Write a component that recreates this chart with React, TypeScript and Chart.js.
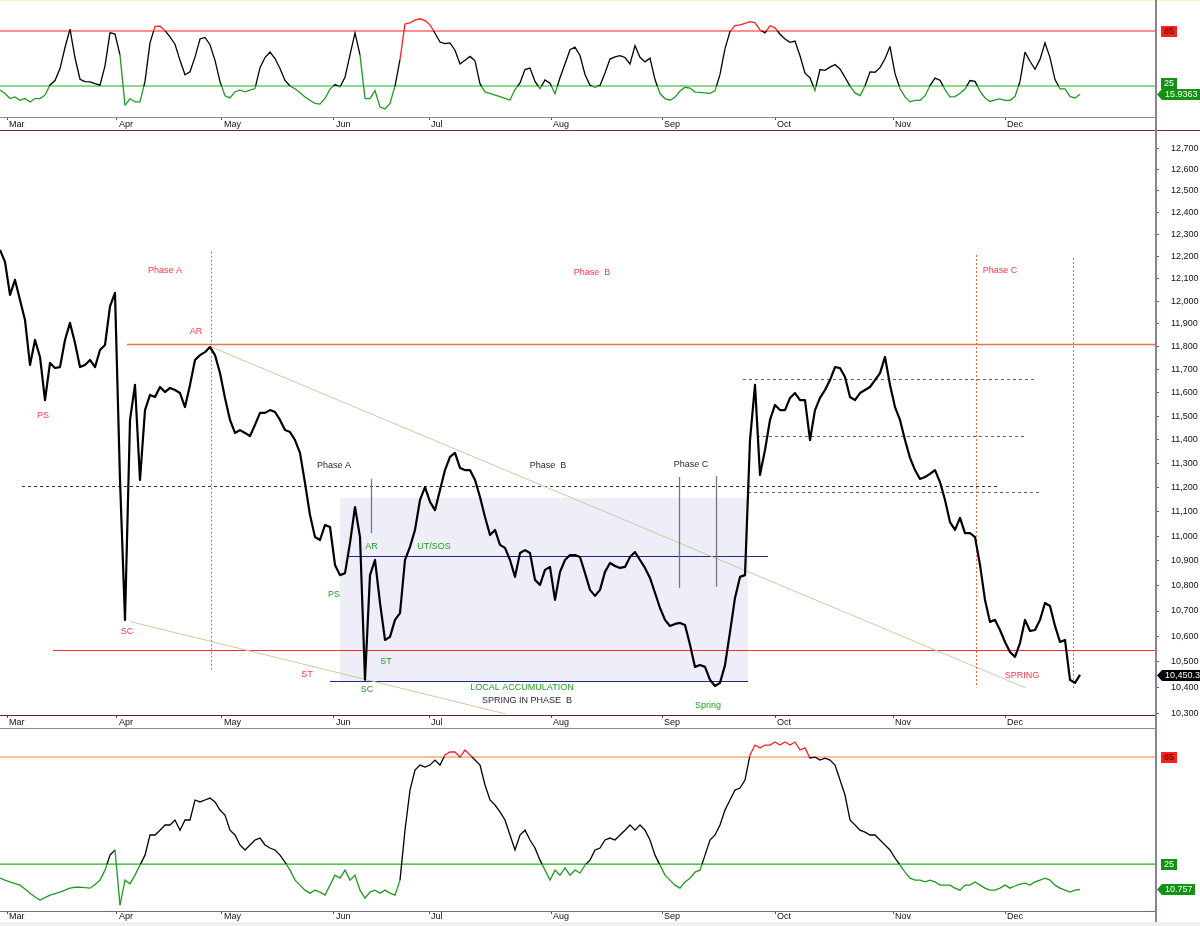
import React, { useEffect, useRef } from 'react';
import { Chart, registerables } from 'chart.js';

Chart.register(...registerables);

const FONT = '"Liberation Sans", Arial, Helvetica, sans-serif';
const X_MAX = 231;
const AXIS_W = 45;

const months = ['Mar', 'Apr', 'May', 'Jun', 'Jul', 'Aug', 'Sep', 'Oct', 'Nov', 'Dec'];
const monthPositions = [1.4, 23.4, 44.4, 66.8, 85.8, 110.2, 132.4, 155, 178.6, 201];

const priceTicks = [12700, 12600, 12500, 12400, 12300, 12200, 12100, 12000, 11900, 11800, 11700, 11600, 11500, 11400, 11300, 11200, 11100, 11000, 10900, 10800, 10700, 10600, 10500, 10400, 10300];

const closePrices = [
  12230, 12176, 12028, 12095, 12005, 11917, 11720, 11829, 11755, 11569,
  11729, 11707, 11711, 11829, 11904, 11816, 11711, 11720, 11742, 11711,
  11785, 11807, 11977, 12037, 11232, 10665, 11484, 11634, 11232, 11526,
  11591, 11582, 11625, 11603, 11621, 11612, 11599, 11539, 11634, 11742,
  11763, 11776, 11798, 11763, 11685, 11578, 11484, 11429, 11441, 11429,
  11416, 11463, 11514, 11514, 11526, 11518, 11484, 11441, 11433, 11399,
  11345, 11219, 11087, 10997, 10985, 11046, 11038, 10884, 10843, 10851,
  10973, 11120, 10997, 10431, 10843, 10904, 10732, 10586, 10598, 10665,
  10692, 10904, 10957, 11026, 11149, 11202, 11141, 11107, 11190, 11273,
  11328, 11345, 11282, 11273, 11273, 11232, 11161, 11079, 11005, 11026,
  10965, 10953, 10904, 10836, 10932, 10944, 10932, 10824, 10804, 10864,
  10876, 10744, 10856, 10904, 10924, 10924, 10916, 10851, 10784, 10760,
  10784, 10856, 10892, 10880, 10872, 10876, 10916, 10936, 10904, 10872,
  10832, 10772, 10712, 10665, 10641, 10649, 10653, 10645, 10567, 10481,
  10488, 10481, 10431, 10407, 10419, 10488, 10617, 10752, 10836, 10843,
  11399, 11634, 11253, 11357, 11484, 11548, 11526, 11526, 11578, 11599,
  11569, 11569, 11399, 11526, 11578, 11612, 11655, 11711, 11707, 11668,
  11582, 11569, 11599, 11612, 11625, 11655, 11685, 11755, 11634, 11539,
  11484, 11399, 11324, 11273, 11236, 11244, 11257, 11273, 11223, 11149,
  11058, 11026, 11075, 11013, 11013, 10997, 10884, 10744, 10657, 10665,
  10625, 10578, 10539, 10520, 10574, 10665, 10621, 10625, 10665, 10732,
  10720, 10641, 10578, 10586, 10431, 10419, 10450.3,
];

const fastOscillator = [
  20.6, 16.9, 11.3, 13.1, 9.4, 11.3, 7.6, 11.3, 11.3, 15,
  26.1, 31, 44, 67, 87, 55.8, 32.4, 29.8, 29.5, 27.6,
  26, 47, 83.3, 81.6, 59, 3.9, 11.3, 7.6, 7.6, 30,
  72, 90, 90.2, 85.4, 78.5, 70.6, 53, 37.2, 40.5, 56.5,
  76.3, 78, 70, 53, 29.8, 14.4, 12, 18.8, 20.5, 18.7,
  20.5, 22.2, 45, 56, 62, 55, 44, 31, 25, 22,
  17.6, 13, 9.5, 6, 5.3, 11.4, 21.6, 26.5, 24, 34.5,
  59, 83, 59, 11.3, 11.3, 20, 2, 0, 6, 25,
  54, 92.8, 93.9, 96.8, 98.3, 96.4, 91.7, 82.5, 73, 71.2,
  72, 64, 49, 53, 57.3, 52.5, 27.3, 18.6, 16.9, 15,
  13.3, 11.5, 9.7, 21.2, 28.4, 42.9, 44.6, 30, 22, 31.7,
  28, 16.5, 34, 49, 64.5, 67.4, 58.3, 37.6, 25.8, 23.6,
  25.6, 39.3, 54.4, 56.8, 58.2, 56.1, 49, 69, 56.3, 51.3,
  55.3, 32, 16.8, 11.3, 9.5, 12.7, 19.5, 23.6, 22.8, 18.4,
  18.1, 17.5, 16.9, 19.7, 37.6, 65.7, 84.5, 90.9, 91.6, 93.4,
  95.1, 94.1, 86.1, 83, 90.7, 88.4, 81.5, 76.2, 72.6, 74,
  58, 39, 34, 20, 42.9, 42.1, 45.6, 48.3, 43.6, 34.5,
  24.8, 17.5, 14.5, 25, 40.4, 40, 45, 54.7, 68, 38.5,
  22, 13.1, 7.7, 9.3, 9.4, 14.2, 25.5, 33.7, 31.4, 21,
  13.2, 13.5, 17.1, 21.7, 31, 30, 19.5, 12, 8.2, 9.9,
  10.9, 9.4, 9.4, 13.5, 30, 62, 52, 43.3, 54, 72,
  56, 32, 22, 21.9, 13.6, 11.9, 15.9363,
];

const slowOscillator = [
  17.1, 16, 15, 14, 13.2, 11, 8.7, 6.5, 4.8, 6.2,
  7.6, 8.5, 9.3, 10.4, 11.5, 12, 12.1, 11.8, 11.5, 13.5,
  16, 21.6, 30, 32.9, 2, 16, 14, 18.8, 24.4, 30,
  41.3, 41.3, 44, 46.9, 46.9, 49.7, 44, 49.7, 49.7, 60.9,
  59.8, 60.9, 62, 59.8, 55.3, 52.5, 44, 41.3, 35.7, 32.9,
  35.7, 38.5, 39.6, 35.7, 34, 32.9, 30, 26.1, 21.6, 16,
  13.2, 10.4, 8.7, 10.4, 9.3, 7.6, 13.2, 18.8, 17.1, 21.6,
  16, 18.8, 10.4, 5.9, 9.3, 10.4, 8.7, 10.4, 8.7, 7.6,
  16, 44, 66.5, 77.7, 80.5, 79.4, 80.5, 83.3, 80.5, 86.1,
  87.8, 87.8, 85, 88.9, 86.1, 83.3, 80.5, 69.3, 60.9, 58.1,
  54.2, 49.7, 41.3, 32.9, 41.3, 44, 38.5, 34, 27.2, 21.6,
  16, 21.6, 18.8, 22.8, 18.8, 21.6, 20, 24.4, 27.2, 32.9,
  34, 38.5, 39.6, 38.5, 41.3, 44, 46.9, 44, 46.9, 44,
  38.5, 30, 24.4, 18.8, 16, 13.2, 11.5, 15, 17.1, 20.5,
  21.6, 30, 38.5, 41.3, 46.9, 55.3, 60.9, 66.5, 67.6, 72.1,
  86.1, 91.7, 90.1, 91.7, 91.7, 93.4, 91.7, 93.4, 91.7, 93.4,
  88.9, 90.1, 84.4, 85, 83.3, 84.4, 83.3, 80.5, 72.1, 63.7,
  49.7, 46.9, 44, 42.9, 41.3, 41.3, 38.5, 35.7, 32.9, 28.4,
  24.4, 20.5, 17.1, 16, 16, 15, 16, 15, 13.2, 13.2,
  13.2, 11.5, 10.4, 13.2, 13.2, 15, 13.2, 11.5, 10.4, 10.4,
  11.5, 13.2, 11.5, 12.7, 13.8, 14.3, 13.2, 15, 16, 17.1,
  16, 13.2, 11.5, 10.4, 9.3, 10.4, 10.757,
];

const oscillatorLevels = [85, 25];

const RED = '#ff1e1e';
const GREEN = '#1f9a1f';
const BLACK = '#000000';
const RED_TEXT = '#ff3545';
const GREEN_TEXT = '#22a022';
const DARK_TEXT = '#2a2a2a';

// Main chart annotations (x in bar index, y in price)
const zoneBox = { x0: 68, x1: 149.6, top: 11157, bottom: 10427, color: '#eeeef9' };

const horizontalLevels = [
  { price: 11812, from: 25.4, to: X_MAX, color: '#f47048', width: 1.5, dash: [] as number[] },
  { price: 10547, from: 10.6, to: X_MAX, color: '#ff2a2a', width: 1.2, dash: [] as number[] },
  { price: 11207, from: 4.4, to: 199.4, color: '#4a2c2c', width: 1, dash: [3, 3] },
  { price: 11659, from: 148.6, to: 207.4, color: '#6e5e6e', width: 1, dash: [3, 3] },
  { price: 11416, from: 151.4, to: 205.4, color: '#6e5e6e', width: 1, dash: [3, 3] },
  { price: 11182, from: 149.6, to: 208.4, color: '#6e5e6e', width: 1, dash: [3, 3] },
  { price: 10920, from: 69.4, to: 153.6, color: '#24248c', width: 1, dash: [] as number[] },
  { price: 10427, from: 66, to: 149.6, color: '#24248c', width: 1, dash: [] as number[] },
];

const segmentLines = [
  { x0: 42.2, p0: 11798, x1: 205, p1: 10400, color: '#cdc9a6', width: 1, dash: [] as number[] },
  { x0: 26, p0: 10658, x1: 101, p1: 10300, color: '#cdc9a6', width: 1, dash: [] as number[] },
  { x0: 42.3, p0: 12222, x1: 42.3, p1: 10469, color: '#f2603c', width: 1, dash: [2, 2] },
  { x0: 195.2, p0: 12207, x1: 195.2, p1: 10402, color: '#f2603c', width: 1, dash: [2, 2] },
  { x0: 214.6, p0: 12194, x1: 214.6, p1: 10392, color: '#f2603c', width: 1, dash: [2, 2] },
  { x0: 74.2, p0: 11236, x1: 74.2, p1: 11013, color: '#777777', width: 1.3, dash: [] as number[] },
  { x0: 135.8, p0: 11244, x1: 135.8, p1: 10792, color: '#777777', width: 1.3, dash: [] as number[] },
  { x0: 143.2, p0: 11248, x1: 143.2, p1: 10796, color: '#777777', width: 1.3, dash: [] as number[] },
];

const annotationTexts = [
  { text: 'Phase A', x: 33, price: 12135, color: RED_TEXT },
  { text: 'AR', x: 39.2, price: 11864, color: RED_TEXT },
  { text: 'PS', x: 8.6, price: 11505, color: RED_TEXT },
  { text: 'SC', x: 25.4, price: 10621, color: RED_TEXT },
  { text: 'ST', x: 61.4, price: 10450, color: RED_TEXT },
  { text: 'Phase  B', x: 118.4, price: 12126, color: RED_TEXT },
  { text: 'Phase C', x: 200, price: 12135, color: RED_TEXT },
  { text: 'SPRING', x: 204.4, price: 10446, color: RED_TEXT },
  { text: 'Phase A', x: 66.8, price: 11290, color: DARK_TEXT },
  { text: 'Phase  B', x: 109.6, price: 11290, color: DARK_TEXT },
  { text: 'Phase C', x: 138.2, price: 11295, color: DARK_TEXT },
  { text: 'AR', x: 74.3, price: 10960, color: GREEN_TEXT },
  { text: 'UT/SOS', x: 86.8, price: 10958, color: GREEN_TEXT },
  { text: 'PS', x: 66.8, price: 10764, color: GREEN_TEXT },
  { text: 'ST', x: 77.2, price: 10500, color: GREEN_TEXT },
  { text: 'SC', x: 73.4, price: 10394, color: GREEN_TEXT },
  { text: 'LOCAL ACCUMULATION', x: 104.4, price: 10400, color: GREEN_TEXT },
  { text: 'SPRING IN PHASE  B', x: 105.4, price: 10352, color: DARK_TEXT },
  { text: 'Spring', x: 141.6, price: 10334, color: GREEN_TEXT },
];

function xScale(height: number, borderColor: string, labelPad: number) {
  return {
    type: 'linear',
    position: 'bottom',
    min: 0,
    max: X_MAX,
    afterBuildTicks: (s: any) => {
      s.ticks = monthPositions.map((v) => ({ value: v }));
    },
    afterFit: (s: any) => {
      s.height = height;
      s.paddingLeft = 0;
      s.paddingRight = 0;
    },
    ticks: {
      autoSkip: false,
      maxRotation: 0,
      minRotation: 0,
      align: 'start',
      labelOffset: 2,
      padding: labelPad,
      color: '#111111',
      font: { family: FONT, size: 9 },
      callback: (_v: any, i: number) => months[i],
    },
    grid: { drawOnChartArea: false, drawTicks: true, tickLength: 3, tickColor: '#555555', tickWidth: 1 },
    border: { display: true, color: borderColor, width: 1 },
  };
}

function bandGradient(c: any) {
  const chart = c.chart;
  const area = chart.chartArea;
  if (!area) return BLACK;
  const [hi, lo] = oscillatorLevels;
  const y = chart.scales.y;
  const h = area.bottom - area.top;
  const tHi = Math.min(Math.max((y.getPixelForValue(hi) - area.top) / h, 0), 1);
  const tLo = Math.min(Math.max((y.getPixelForValue(lo) - area.top) / h, 0), 1);
  const g = chart.ctx.createLinearGradient(0, area.top, 0, area.bottom);
  g.addColorStop(0, RED);
  g.addColorStop(tHi, RED);
  g.addColorStop(tHi, BLACK);
  g.addColorStop(tLo, BLACK);
  g.addColorStop(tLo, GREEN);
  g.addColorStop(1, GREEN);
  return g;
}

function jumpColor(c: any) {
  const [hi, lo] = oscillatorLevels;
  const a = c.p0.parsed.y;
  const b = c.p1.parsed.y;
  if (Math.abs(b - a) < 25) return undefined;
  return b > hi ? RED : b < lo ? GREEN : BLACK;
}

function drawLevelBox(ctx: any, left: number, yc: number, text: string, bg: string, fg: string) {
  const y = Math.round(yc);
  ctx.save();
  ctx.fillStyle = bg;
  ctx.fillRect(left, y - 5, 16, 11);
  ctx.fillStyle = fg;
  ctx.font = `9px ${FONT}`;
  ctx.textAlign = 'center';
  ctx.textBaseline = 'middle';
  ctx.fillText(text, left + 8, y + 0.5);
  ctx.restore();
}

function drawValueTag(ctx: any, left: number, yc: number, width: number, text: string, bg: string, fg: string) {
  const y = Math.round(yc);
  ctx.save();
  ctx.fillStyle = bg;
  ctx.beginPath();
  ctx.moveTo(left, y + 0.5);
  ctx.lineTo(left + 5, y - 5);
  ctx.lineTo(left + width, y - 5);
  ctx.lineTo(left + width, y + 6);
  ctx.lineTo(left + 5, y + 6);
  ctx.closePath();
  ctx.fill();
  ctx.fillStyle = fg;
  ctx.font = `9px ${FONT}`;
  ctx.textAlign = 'left';
  ctx.textBaseline = 'middle';
  ctx.fillText(text, left + 8, y + 0.5);
  ctx.restore();
}

function oscillatorPlugin(values: number[], highLineColor: string, tagWidth: number) {
  return {
    id: 'oscLevels',
    beforeDatasetsDraw(chart: any) {
      const { ctx, chartArea, scales } = chart;
      const [hi, lo] = oscillatorLevels;
      const levelStyles = [
        { value: hi, color: highLineColor },
        { value: lo, color: '#22b022' },
      ];
      ctx.save();
      ctx.lineWidth = 1.2;
      levelStyles.forEach((lv) => {
        const y = scales.y.getPixelForValue(lv.value);
        ctx.strokeStyle = lv.color;
        ctx.beginPath();
        ctx.moveTo(chartArea.left, y);
        ctx.lineTo(chartArea.right, y);
        ctx.stroke();
      });
      ctx.restore();
    },
    afterDraw(chart: any) {
      const { ctx, chartArea, scales } = chart;
      const [hi, lo] = oscillatorLevels;
      const last = values[values.length - 1];
      const yv = scales.y.getPixelForValue(last);
      const yHi = scales.y.getPixelForValue(hi);
      let yLo = scales.y.getPixelForValue(lo);
      if (yLo > yv - 11) yLo = yv - 11;
      drawLevelBox(ctx, chartArea.right + 6, yHi, String(hi), '#ff2020', '#3a0000');
      drawLevelBox(ctx, chartArea.right + 6, yLo, String(lo), '#129212', '#ffffff');
      drawValueTag(ctx, chartArea.right + 2, yv, tagWidth, String(last), '#129212', '#ffffff');
    },
  };
}

function oscillatorConfig(values: number[], yMin: number, yMax: number, padTop: number, xHeight: number, xBorder: string, highLineColor: string, tagWidth: number, labelPad: number) {
  return {
    type: 'line',
    data: {
      datasets: [
        {
          data: values.map((v, i) => ({ x: i, y: v })),
          borderWidth: 1.3,
          pointRadius: 0,
          tension: 0,
          borderColor: bandGradient,
          segment: { borderColor: jumpColor },
        },
      ],
    },
    options: {
      responsive: false,
      animation: false,
      events: [],
      layout: { padding: { top: padTop, left: 0, right: 0, bottom: 0 } },
      plugins: { legend: { display: false }, tooltip: { enabled: false } },
      scales: {
        x: xScale(xHeight, xBorder, labelPad),
        y: {
          type: 'linear',
          position: 'right',
          min: yMin,
          max: yMax,
          ticks: { display: false },
          grid: { display: false },
          border: { display: false },
          afterFit: (s: any) => {
            s.width = AXIS_W;
            s.paddingTop = 0;
            s.paddingBottom = 0;
          },
        },
      },
    },
    plugins: [oscillatorPlugin(values, highLineColor, tagWidth)],
  };
}

const mainAnnotations = {
  id: 'mainAnnotations',
  beforeDatasetsDraw(chart: any) {
    const { ctx, chartArea, scales } = chart;
    const xs = scales.x;
    const ys = scales.y;
    ctx.save();
    ctx.beginPath();
    ctx.rect(chartArea.left, chartArea.top, chartArea.right - chartArea.left, chartArea.bottom - chartArea.top);
    ctx.clip();
    const bx0 = xs.getPixelForValue(zoneBox.x0);
    const bx1 = xs.getPixelForValue(zoneBox.x1);
    const by0 = ys.getPixelForValue(zoneBox.top);
    const by1 = ys.getPixelForValue(zoneBox.bottom);
    ctx.fillStyle = zoneBox.color;
    ctx.fillRect(bx0, by0, bx1 - bx0, by1 - by0);
    horizontalLevels.forEach((l) => {
      const y = Math.round(ys.getPixelForValue(l.price)) + 0.5;
      ctx.strokeStyle = l.color;
      ctx.lineWidth = l.width;
      ctx.setLineDash(l.dash);
      ctx.beginPath();
      ctx.moveTo(xs.getPixelForValue(l.from), y);
      ctx.lineTo(xs.getPixelForValue(l.to), y);
      ctx.stroke();
    });
    segmentLines.forEach((s) => {
      ctx.strokeStyle = s.color;
      ctx.lineWidth = s.width;
      ctx.setLineDash(s.dash);
      ctx.beginPath();
      ctx.moveTo(Math.round(xs.getPixelForValue(s.x0)) + 0.5, ys.getPixelForValue(s.p0));
      ctx.lineTo(Math.round(xs.getPixelForValue(s.x1)) + 0.5, ys.getPixelForValue(s.p1));
      ctx.stroke();
    });
    ctx.restore();
  },
  afterDatasetsDraw(chart: any) {
    const { ctx, scales } = chart;
    ctx.save();
    ctx.font = `9px ${FONT}`;
    ctx.textAlign = 'center';
    ctx.textBaseline = 'middle';
    annotationTexts.forEach((t) => {
      ctx.fillStyle = t.color;
      ctx.fillText(t.text, scales.x.getPixelForValue(t.x), scales.y.getPixelForValue(t.price));
    });
    ctx.restore();
  },
  afterDraw(chart: any) {
    const { ctx, chartArea, scales } = chart;
    const last = closePrices[closePrices.length - 1];
    const txt = last.toLocaleString('en-US', { minimumFractionDigits: 1, maximumFractionDigits: 1 });
    drawValueTag(ctx, chartArea.right + 2, scales.y.getPixelForValue(last), 50, txt, '#000000', '#ffffff');
  },
};

function mainConfig() {
  return {
    type: 'line',
    data: {
      datasets: [
        {
          data: closePrices.map((v, i) => ({ x: i, y: v })),
          borderColor: '#000000',
          borderWidth: 2.2,
          pointRadius: 0,
          tension: 0,
          borderJoinStyle: 'round',
        },
      ],
    },
    options: {
      responsive: false,
      animation: false,
      events: [],
      layout: { padding: 0 },
      plugins: { legend: { display: false }, tooltip: { enabled: false } },
      scales: {
        x: xScale(13, '#5c2626', -1),
        y: {
          type: 'logarithmic',
          position: 'right',
          min: 10296,
          max: 12785,
          afterBuildTicks: (s: any) => {
            s.ticks = priceTicks.map((v) => ({ value: v }));
          },
          afterFit: (s: any) => {
            s.width = AXIS_W;
            s.paddingTop = 0;
            s.paddingBottom = 0;
          },
          ticks: {
            autoSkip: false,
            padding: 12,
            color: '#111111',
            font: { family: FONT, size: 9 },
            callback: (v: any) => Number(v).toLocaleString('en-US'),
          },
          grid: { drawOnChartArea: false, drawTicks: true, tickLength: 4, tickColor: '#666666' },
          border: { display: false },
        },
      },
    },
    plugins: [mainAnnotations],
  };
}

export default function App() {
  const topRef = useRef<HTMLCanvasElement>(null);
  const mainRef = useRef<HTMLCanvasElement>(null);
  const botRef = useRef<HTMLCanvasElement>(null);

  useEffect(() => {
    const charts: Chart[] = [];
    if (topRef.current) {
      charts.push(new Chart(topRef.current, oscillatorConfig(fastOscillator, -8.8, 118.8, 0, 13, '#8a8a9a', '#ff2020', 43, -1) as any));
    }
    if (mainRef.current) {
      charts.push(new Chart(mainRef.current, mainConfig() as any));
    }
    if (botRef.current) {
      charts.push(new Chart(botRef.current, oscillatorConfig(slowOscillator, -1.3, 100.7, 1, 15, '#707070', '#ff8040', 38, -3) as any));
    }
    return () => charts.forEach((c) => c.destroy());
  }, []);

  const abs = (top: number, left: number, width: number, height: number, bg: string) => ({
    position: 'absolute' as const, top, left, width, height, background: bg,
  });

  return (
    <div style={{ position: 'absolute', left: 0, top: 0, width: 1200, height: 926, background: '#ffffff', overflow: 'hidden' }}>
      <canvas ref={topRef} width={1200} height={130} style={{ position: 'absolute', left: 0, top: 0 }} />
      <canvas ref={mainRef} width={1200} height={598} style={{ position: 'absolute', left: 0, top: 130 }} />
      <canvas ref={botRef} width={1200} height={198} style={{ position: 'absolute', left: 0, top: 728 }} />
      <div style={abs(0, 0, 1200, 1, '#fbf6b8')} />
      <div style={abs(130, 0, 1200, 1, '#7a2a2a')} />
      <div style={abs(728, 0, 1155, 1, '#8a8a8a')} />
      <div style={abs(0, 1155, 2, 926, '#8c8098')} />
      <div style={abs(922, 0, 1200, 4, '#efefef')} />
    </div>
  );
}
